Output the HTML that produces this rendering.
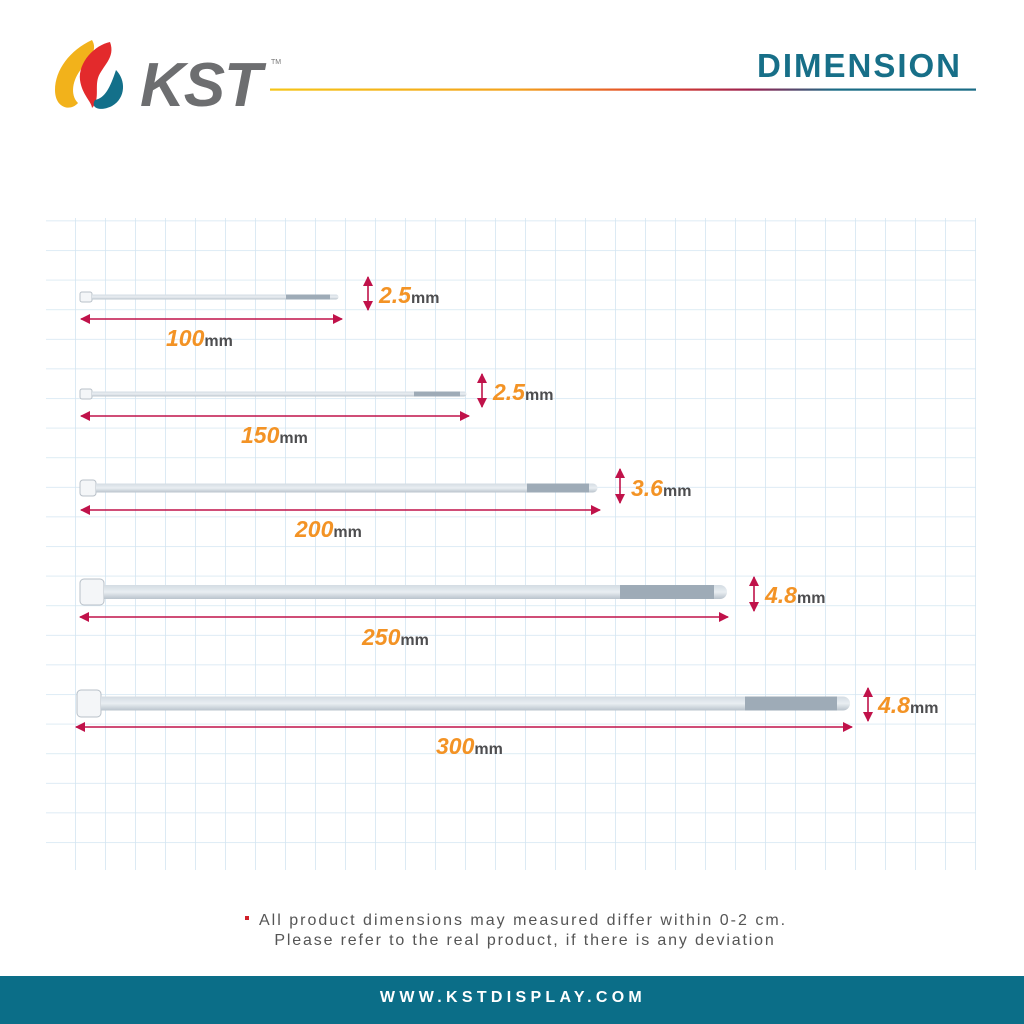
<!DOCTYPE html>
<html><head><meta charset="utf-8"><style>
html,body{margin:0;padding:0;background:#fff;}
body{width:1024px;height:1024px;overflow:hidden;position:relative;font-family:"Liberation Sans",sans-serif;}
</style></head><body>
<svg width="1024" height="1024" viewBox="0 0 1024 1024" xmlns="http://www.w3.org/2000/svg" style="position:absolute;left:0;top:0">
<defs>
<pattern id="grid" patternUnits="userSpaceOnUse" x="15" y="220.5" width="30" height="29.6">
<line x1="0" y1="0" x2="0" y2="29.6" stroke="#d3e5f1" stroke-width="1.6"/>
<line x1="0" y1="0" x2="30" y2="0" stroke="#d3e5f1" stroke-width="1.6"/>
</pattern>
<linearGradient id="ul" x1="0" x2="1" y1="0" y2="0">
<stop offset="0" stop-color="#f5c518"/><stop offset="0.35" stop-color="#f3a21c"/>
<stop offset="0.55" stop-color="#e0402a"/><stop offset="0.68" stop-color="#9a2050"/>
<stop offset="0.8" stop-color="#1a6b85"/><stop offset="1" stop-color="#1a6b85"/>
</linearGradient>
<linearGradient id="strap" x1="0" x2="0" y1="0" y2="1">
<stop offset="0" stop-color="#d4dce3"/><stop offset="0.5" stop-color="#e9eef2"/><stop offset="1" stop-color="#b9c3cc"/>
</linearGradient>
<marker id="ah" markerWidth="10" markerHeight="10" refX="9" refY="5" orient="auto-start-reverse" markerUnits="userSpaceOnUse">
<path d="M0,0 L10,5 L0,10 Z" fill="#c0124a"/></marker>
</defs>

<!-- logo -->
<path d="M92,40 C70,50 55,70 55,90 C55,108 70,112 78,103 C70,95 72,80 82,68 C90,58 98,50 92,40 Z" fill="#f2b21b"/>
<path d="M110,42 C95,45 78,62 80,80 C82,95 92,102 92,108 C100,100 95,88 98,78 C102,66 116,58 110,42 Z" fill="#e32a2c"/>
<path d="M116,70 C126,80 126,98 112,106 C100,112 90,108 95,100 C105,98 110,88 116,70 Z" fill="#13708a"/>
<text x="140" y="106" font-family="Liberation Sans" font-weight="bold" font-style="italic" font-size="62" fill="#6d6e70" letter-spacing="-1">KST</text>
<text x="271" y="64" font-size="7" fill="#777">TM</text>

<!-- title -->
<text x="962" y="77" text-anchor="end" font-family="Liberation Sans" font-weight="bold" font-size="33" fill="#176f88" letter-spacing="2">DIMENSION</text>
<rect x="270" y="88.5" width="706" height="2.2" fill="url(#ul)"/>

<!-- grid -->
<rect x="46" y="218" width="930" height="652" fill="url(#grid)"/>

<!-- tie 1 -->
<rect x="80" y="292" width="12" height="10" rx="2" fill="#f4f6f8" stroke="#b8c0c8"/>
<path d="M92,294.5 H336 a2.5,2.5 0 0 1 0,5 H92 Z" fill="url(#strap)"/>
<rect x="286" y="294.5" width="44" height="5" fill="#9eabb7"/>
<!-- tie 2 -->
<rect x="80" y="389" width="12" height="10" rx="2" fill="#f4f6f8" stroke="#b8c0c8"/>
<path d="M92,391.5 H464 a2.5,2.5 0 0 1 0,5 H92 Z" fill="url(#strap)"/>
<rect x="414" y="391.5" width="46" height="5" fill="#9eabb7"/>
<!-- tie 3 -->
<rect x="80" y="480" width="16" height="16" rx="3" fill="#f4f6f8" stroke="#b8c0c8"/>
<path d="M96,483.5 H593 a4.5,4.5 0 0 1 0,9 H96 Z" fill="url(#strap)"/>
<rect x="527" y="483.5" width="62" height="9" fill="#9eabb7"/>
<!-- tie 4 -->
<rect x="80" y="579" width="24" height="26" rx="4" fill="#f4f6f8" stroke="#b8c0c8"/>
<path d="M104,585 H720 a7,7 0 0 1 0,14 H104 Z" fill="url(#strap)"/>
<rect x="620" y="585" width="94" height="14" fill="#9eabb7"/>
<!-- tie 5 -->
<rect x="77" y="690" width="24" height="27" rx="4" fill="#f4f6f8" stroke="#b8c0c8"/>
<path d="M101,696.5 H843 a7,7 0 0 1 0,14 H101 Z" fill="url(#strap)"/>
<rect x="745" y="696.5" width="92" height="14" fill="#9eabb7"/>

<!-- arrows -->
<g stroke="#c0124a" stroke-width="1.6" fill="none">
<line x1="81" y1="319" x2="342" y2="319" marker-start="url(#ah)" marker-end="url(#ah)"/>
<line x1="81" y1="416" x2="469" y2="416" marker-start="url(#ah)" marker-end="url(#ah)"/>
<line x1="81" y1="510" x2="600" y2="510" marker-start="url(#ah)" marker-end="url(#ah)"/>
<line x1="80" y1="617" x2="728" y2="617" marker-start="url(#ah)" marker-end="url(#ah)"/>
<line x1="76" y1="727" x2="852" y2="727" marker-start="url(#ah)" marker-end="url(#ah)"/>
<line x1="368" y1="277" x2="368" y2="310" marker-start="url(#ah)" marker-end="url(#ah)"/>
<line x1="482" y1="374" x2="482" y2="407" marker-start="url(#ah)" marker-end="url(#ah)"/>
<line x1="620" y1="469" x2="620" y2="503" marker-start="url(#ah)" marker-end="url(#ah)"/>
<line x1="754" y1="577" x2="754" y2="611" marker-start="url(#ah)" marker-end="url(#ah)"/>
<line x1="868" y1="688" x2="868" y2="721" marker-start="url(#ah)" marker-end="url(#ah)"/>
</g>

<g font-family="Liberation Sans" font-weight="bold">
<text x="166" y="346"><tspan font-size="23" font-style="italic" fill="#f39325">100</tspan><tspan font-size="16" fill="#4d4d4f">mm</tspan></text>
<text x="241" y="443"><tspan font-size="23" font-style="italic" fill="#f39325">150</tspan><tspan font-size="16" fill="#4d4d4f">mm</tspan></text>
<text x="295" y="537"><tspan font-size="23" font-style="italic" fill="#f39325">200</tspan><tspan font-size="16" fill="#4d4d4f">mm</tspan></text>
<text x="362" y="645"><tspan font-size="23" font-style="italic" fill="#f39325">250</tspan><tspan font-size="16" fill="#4d4d4f">mm</tspan></text>
<text x="436" y="754"><tspan font-size="23" font-style="italic" fill="#f39325">300</tspan><tspan font-size="16" fill="#4d4d4f">mm</tspan></text>
<text x="379" y="303"><tspan font-size="23" font-style="italic" fill="#f39325">2.5</tspan><tspan font-size="16" fill="#4d4d4f">mm</tspan></text>
<text x="493" y="400"><tspan font-size="23" font-style="italic" fill="#f39325">2.5</tspan><tspan font-size="16" fill="#4d4d4f">mm</tspan></text>
<text x="631" y="496"><tspan font-size="23" font-style="italic" fill="#f39325">3.6</tspan><tspan font-size="16" fill="#4d4d4f">mm</tspan></text>
<text x="765" y="603"><tspan font-size="23" font-style="italic" fill="#f39325">4.8</tspan><tspan font-size="16" fill="#4d4d4f">mm</tspan></text>
<text x="878" y="713"><tspan font-size="23" font-style="italic" fill="#f39325">4.8</tspan><tspan font-size="16" fill="#4d4d4f">mm</tspan></text>
</g>

<!-- note -->
<rect x="245" y="916" width="4" height="4" fill="#d0202a"/>
<text x="259" y="925" font-family="Liberation Sans" font-size="16" fill="#555" letter-spacing="2">All product dimensions may measured differ within 0-2 cm.</text>
<text x="525" y="945" text-anchor="middle" font-family="Liberation Sans" font-size="16" fill="#555" letter-spacing="1.85">Please refer to the real product, if there is any deviation</text>

<!-- footer -->
<rect x="0" y="976" width="1024" height="48" fill="#0b6e88"/>
<text x="513" y="1002" text-anchor="middle" font-family="Liberation Sans" font-weight="bold" font-size="16" fill="#fff" letter-spacing="4.3">WWW.KSTDISPLAY.COM</text>
</svg>
</body></html>
